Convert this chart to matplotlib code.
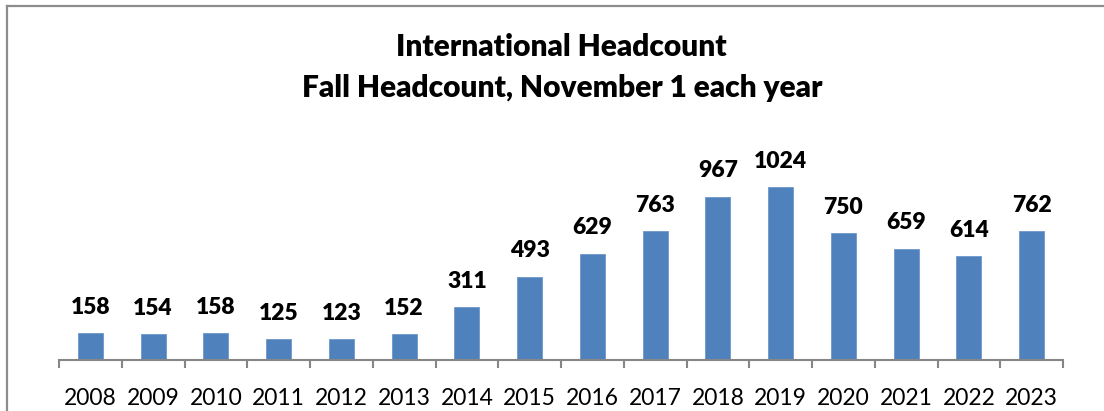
import matplotlib

matplotlib.use("Agg")

import matplotlib.pyplot as plt
from matplotlib.lines import Line2D

# dados
anos = ["2008", "2009", "2010", "2011", "2012", "2013", "2014", "2015",
        "2016", "2017", "2018", "2019", "2020", "2021", "2022", "2023"]
alunos = [158, 154, 158, 125, 123, 152, 311, 493,
          629, 763, 967, 1024, 750, 659, 614, 762]

plt.rcParams["font.family"] = ["Lato", "DejaVu Sans"]

W, H = 1104, 411
fig = plt.figure(figsize=(W / 100, H / 100), dpi=100)

base_y = 360
escala = 0.169  # px por unidade
ymax = 1200
topo_y = base_y - ymax * escala
ax = fig.add_axes([59 / W, (H - base_y) / H, (1063 - 59) / W, (base_y - topo_y) / H])

x = list(range(len(anos)))
ax.bar(x, alunos, width=0.4, color="#4F81BD", edgecolor="#6f97c9", linewidth=0.6)

for xi, v in zip(x, alunos):
    ax.annotate(str(v), (xi, v), xytext=(0, 11), textcoords="offset points",
                ha="center", va="bottom", fontsize=16.5, fontweight="heavy", color="black")

ax.set_xlim(-0.5, len(anos) - 0.5)
ax.set_ylim(0, ymax)

# marcas entre categorias, rótulos no centro
ax.set_xticks([i - 0.5 for i in range(len(anos) + 1)])
ax.set_xticklabels([])
ax.set_xticks(x, minor=True)
ax.set_xticklabels(anos, minor=True, fontsize=16.5)
ax.tick_params(axis="x", which="major", length=6, width=1.5, color="#868686", direction="out")
ax.tick_params(axis="x", which="minor", length=0, pad=20)
ax.set_yticks([])

for lado in ["top", "right", "left"]:
    ax.spines[lado].set_visible(False)
ax.spines["bottom"].set_color("#868686")
ax.spines["bottom"].set_linewidth(1.5)

fig.text(561 / W, 1 - 47 / H, "International Headcount", ha="center", va="center",
         fontsize=21.5, fontweight="heavy")
fig.text(562 / W, 1 - 88 / H, "Fall Headcount, November 1 each year", ha="center", va="center",
         fontsize=21.5, fontweight="heavy")

# borda do gráfico (apenas esquerda e topo visíveis no recorte)
cinza = "#8c8c8c"
fig.add_artist(Line2D([6.5 / W, 6.5 / W], [0, 1 - 6.5 / H], color=cinza, lw=1.6,
                      transform=fig.transFigure))
fig.add_artist(Line2D([6.5 / W, 1], [1 - 6.5 / H, 1 - 6.5 / H], color=cinza, lw=1.6,
                      transform=fig.transFigure))

fig.savefig("out.png", dpi=100)
plt.close(fig)
